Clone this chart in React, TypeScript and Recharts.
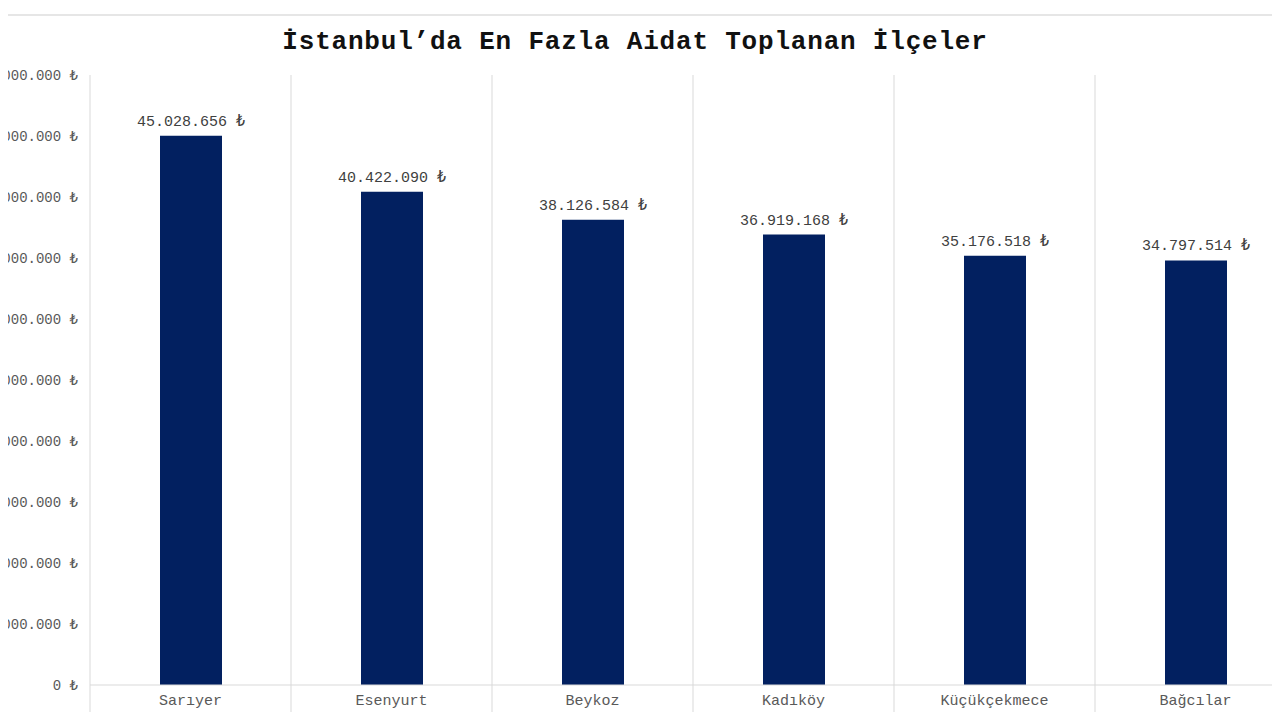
import { BarChart, Bar, XAxis, YAxis, CartesianGrid, LabelList } from "recharts";

const districts = ["Sarıyer", "Esenyurt", "Beykoz", "Kadıköy", "Küçükçekmece", "Bağcılar"];
const dues = [45028656, 40422090, 38126584, 36919168, 35176518, 34797514];
const yTicks = [0, 5000000, 10000000, 15000000, 20000000, 25000000, 30000000, 35000000, 40000000, 45000000, 50000000];

const CHART_W = 1300;
const CHART_H = 720;
const Y_AXIS_W = 90;
const MARGIN = { top: 75, right: 4, left: 0, bottom: 0 };
const BAND = (CHART_W - MARGIN.left - MARGIN.right - Y_AXIS_W) / districts.length;

const FONT = '"Liberation Mono", "Courier New", monospace';
const GRID = "#d9d9d9";

// 45028656 -> "45.028.656 ₺"
const lira = (v: number) => `${v.toLocaleString("de-DE")} ₺`;

const data = districts.map((name, i) => ({ name, value: dues[i] }));

// x tick: label plus the band divider carried down below the baseline
const XTick = (props: any) => {
  const { x, y, payload } = props;
  return (
    <g>
      <line x1={x - BAND / 2} x2={x - BAND / 2} y1={y - 8} y2={y + 30} stroke={GRID} />
      <text x={x} y={y} dy={12} textAnchor="middle" fontFamily={FONT} fontSize={15} fill="#595959">
        {payload.value}
      </text>
    </g>
  );
};

// value above the bar, kept on one line
const ValueLabel = (props: any) => {
  const { x, y, width, value } = props;
  return (
    <text x={x + width / 2} y={y - 10} textAnchor="middle" fontFamily={FONT} fontSize={15} fill="#404040">
      {lira(Number(value))}
    </text>
  );
};

const App = () => {
  return (
    <div
      style={{
        position: "relative",
        width: 1280,
        height: 720,
        margin: -8,
        overflow: "hidden",
        background: "#fff",
      }}
    >
      <div style={{ position: "absolute", top: 14, left: 0, width: 1280, borderTop: "2px solid #e6e6e6" }} />
      <div
        style={{
          position: "absolute",
          top: 27,
          left: 0,
          width: 1270,
          textAlign: "center",
          fontFamily: FONT,
          fontWeight: "bold",
          fontSize: 26,
          letterSpacing: 0.8,
          color: "#111",
        }}
      >
        İstanbul’da En Fazla Aidat Toplanan İlçeler
      </div>
      <div style={{ position: "absolute", top: 0, left: 0 }}>
        <BarChart width={CHART_W} height={CHART_H} data={data} margin={MARGIN}>
          <CartesianGrid
            horizontal={false}
            stroke={GRID}
            verticalCoordinatesGenerator={({ offset }: any) =>
              districts.map((_, i) => offset.left + i * BAND).concat(offset.left + offset.width)
            }
          />
          <XAxis
            dataKey="name"
            axisLine={{ stroke: GRID }}
            tickLine={false}
            tick={<XTick />}
            height={35}
            interval={0}
          />
          <YAxis
            width={Y_AXIS_W}
            domain={[0, 50000000]}
            ticks={yTicks}
            tickFormatter={lira}
            axisLine={false}
            tickLine={false}
            tickMargin={6}
            tick={{ fontFamily: FONT, fontSize: 14, fill: "#595959" }}
          />
          <Bar dataKey="value" fill="#022060" barSize={62} isAnimationActive={false}>
            <LabelList dataKey="value" content={<ValueLabel />} />
          </Bar>
        </BarChart>
      </div>
    </div>
  );
};

export default App;
